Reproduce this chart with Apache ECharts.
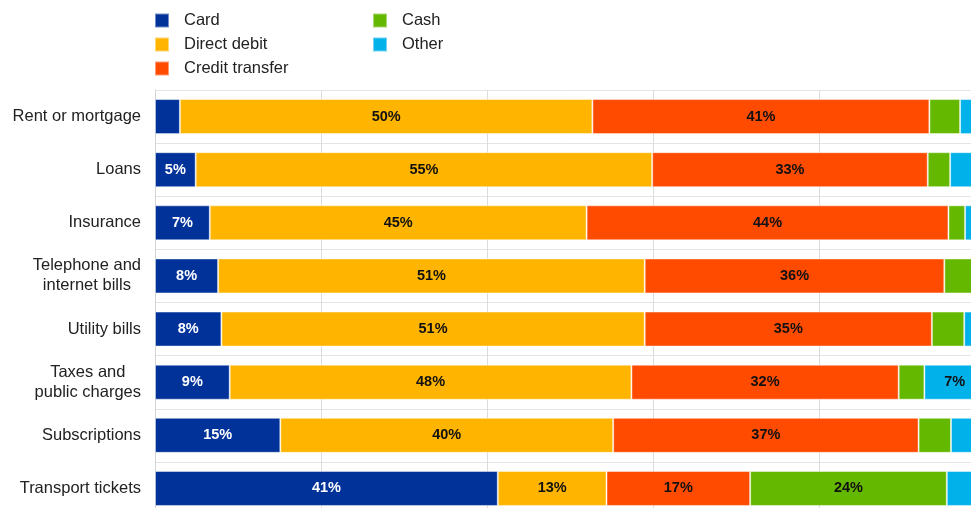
<!DOCTYPE html>
<html>
<head>
<meta charset="utf-8">
<script src="https://cdn.jsdelivr.net/npm/echarts@6/dist/echarts.min.js"></script>
<style>
  html, body { margin: 0; padding: 0; background: #fff; }
  #chart { width: 971px; height: 508px; }
</style>
</head>
<body>
<div id="chart"></div>
<script>
const categories = ['Rent or mortgage', 'Loans', 'Insurance', 'Telephone and\ninternet bills', 'Utility bills', 'Taxes and\npublic charges', 'Subscriptions', 'Transport tickets'];
const seriesNames = ['Card', 'Direct debit', 'Credit transfer', 'Cash', 'Other'];
const card           = [3.0, 4.9, 6.6, 7.6, 8.0, 9.0, 15.1, 41.3];
const directDebit    = [49.7, 55.0, 45.4, 51.4, 51.0, 48.4, 40.1, 13.1];
const creditTransfer = [40.6, 33.2, 43.6, 36.1, 34.6, 32.2, 36.8, 17.3];
const cash           = [3.7, 2.7, 2.0, 3.5, 3.9, 3.1, 3.9, 23.7];
const other          = [2.2, 4.2, 2.6, 1.4, 2.5, 7.3, 4.1, 4.4];
const xTicks = [0, 20, 40, 60, 80, 100];

const colors = ['#003299', '#FFB400', '#FF4B00', '#65B800', '#00B1EA'];
const values = [card, directDebit, creditTransfer, cash, other];
const FONT = 'Arial, "Liberation Sans", sans-serif';

const chart = echarts.init(document.getElementById('chart'));

const series = seriesNames.map((name, i) => ({
  name: name,
  type: 'bar',
  stack: 'total',
  barWidth: 35,
  data: values[i],
  itemStyle: { color: colors[i], borderColor: 'rgba(255,255,255,0.45)', borderWidth: 1 },
  label: {
    show: true,
    position: 'inside',
    fontFamily: FONT,
    fontWeight: 'bold',
    fontSize: 14.5,
    color: i === 0 ? '#ffffff' : '#111111',
    formatter: p => Math.round(p.value) >= 5 ? Math.round(p.value) + '%' : ''
  },
  emphasis: { disabled: true }
}));

const legendText = { fontFamily: FONT, fontSize: 16.5, color: '#222', lineHeight: 16, padding: [0, 0, 0, 10] };

chart.setOption({
  animation: false,
  backgroundColor: '#fff',
  legend: [
    {
      data: seriesNames.slice(0, 3),
      orient: 'vertical', left: 154, top: 12, padding: 0,
      itemWidth: 14, itemHeight: 14, itemGap: 7,
      icon: 'rect', textStyle: legendText, selectedMode: false
    },
    {
      data: seriesNames.slice(3),
      orient: 'vertical', left: 372, top: 12, padding: 0,
      itemWidth: 14, itemHeight: 14, itemGap: 7,
      icon: 'rect', textStyle: legendText, selectedMode: false
    }
  ],
  grid: { left: 155, top: 90, width: 830, height: 425, containLabel: false, outerBoundsMode: 'none' },
  xAxis: {
    type: 'value',
    min: xTicks[0], max: xTicks[xTicks.length - 1], interval: 20,
    axisLine: { show: false },
    axisTick: { show: false },
    axisLabel: { show: false },
    splitLine: { show: true, lineStyle: { color: '#dcdcdc', width: 1 } }
  },
  yAxis: {
    type: 'category',
    data: categories,
    inverse: true,
    axisLine: { show: true, lineStyle: { color: '#d4d4d4', width: 1 } },
    axisTick: { show: false },
    splitLine: { show: true, lineStyle: { color: '#e4e4e4', width: 1 } },
    axisLabel: {
      margin: 14,
      fontFamily: FONT,
      fontSize: 16.5,
      color: '#222',
      lineHeight: 20,
      formatter: v => v.split('\n').map(l => '{c|' + l + '}').join('\n'),
      rich: { c: { align: 'center', fontFamily: FONT, fontSize: 16.5, color: '#222', lineHeight: 20 } }
    }
  },
  series: series
});
</script>
</body>
</html>
